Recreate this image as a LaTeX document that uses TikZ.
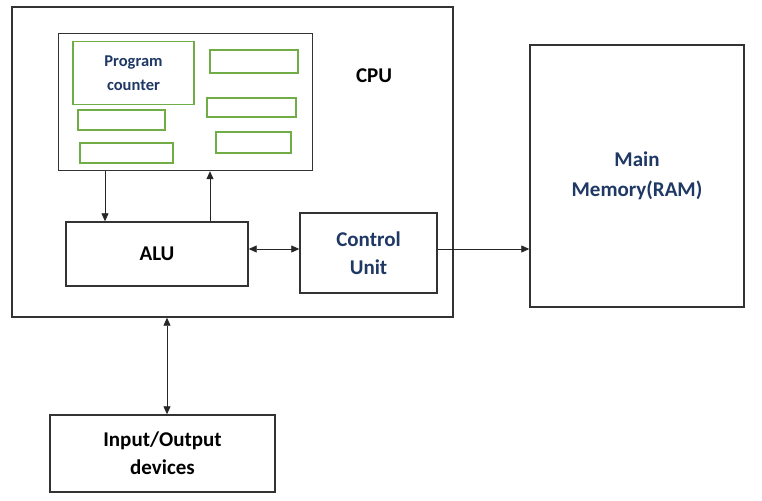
\documentclass[tikz,border=0pt]{standalone}
\usepackage{fontspec}
\setmainfont{Carlito}
\usetikzlibrary{arrows.meta, positioning, calc}
\definecolor{darkblue}{RGB}{31,56,100}
\definecolor{leafgreen}{RGB}{112,173,71}
\tikzset{
    box/.style={
        rectangle,
        draw=black!80,
        line width=1.4pt,
        align=center,
        inner sep=0pt,
        font=\bfseries\fontsize{21}{28}\selectfont
    },
    reg/.style={
        rectangle,
        draw=leafgreen,
        line width=1.3pt,
        inner sep=0pt
    },
    arrow/.style={line width=0.8pt, draw=black!85, -{Triangle[length=8pt,width=7pt]}},
    biarrow/.style={line width=0.8pt, draw=black!85, {Triangle[length=8pt,width=7pt]}-{Triangle[length=8pt,width=7pt]}}
}
\begin{document}
\begin{tikzpicture}[x=1pt, y=-1pt]
    \useasboundingbox (0,0) rectangle (762,500);

    % CPU and its register panel
    \node (cpu) [box, minimum width=441pt, minimum height=310pt] at (232.5,162) {};
    \node (cpulabel) [font=\bfseries\fontsize{21}{24}\selectfont] at (374,76) {CPU};
    \node (panel) [box, minimum width=254pt, minimum height=137pt] at (185.5,102) {};

    \node (pc) [reg, minimum width=121pt, minimum height=63pt, align=center,
        text=darkblue, font=\bfseries\fontsize{16.5}{24}\selectfont] at (133.5,73) {Program\\counter};
    \node (regA) [reg, minimum width=88pt, minimum height=23pt] at (254,61.5) {};
    \node (regB) [reg, minimum width=89pt, minimum height=19pt] at (251.5,107.5) {};
    \node (regC) [reg, minimum width=75pt, minimum height=21pt] at (253.5,142.5) {};
    \node (regD) [reg, minimum width=87pt, minimum height=20pt] at (121.5,120) {};
    \node (regE) [reg, minimum width=93pt, minimum height=20pt] at (126.5,153) {};

    \node (alu) [box, minimum width=182pt, minimum height=64pt] at (157,254) {ALU};
    \node (cu) [box, minimum width=137pt, minimum height=80pt, text=darkblue] at (368.5,253) {Control\\Unit};

    % outside the CPU
    \node (mem) [box, minimum width=214pt, minimum height=262pt, text=darkblue,
        font=\bfseries\fontsize{21}{30}\selectfont] at (637,176) {Main\\Memory(RAM)};
    \node (io) [box, minimum width=225pt, minimum height=77pt] at (162.5,453.5) {Input/Output\\devices};

    \draw [arrow] ([xshift=-80.5pt]panel.south) -- ([xshift=-80.5pt]panel.south |- alu.north);
    \draw [arrow] ([xshift=24.5pt]panel.south |- alu.north) -- ([xshift=24.5pt]panel.south);
    \draw [biarrow] ([yshift=5pt]alu.east) -- ([yshift=5pt]alu.east -| cu.west);
    \draw [arrow] ([yshift=4pt]cu.east) -- ([yshift=4pt]cu.east -| mem.west);
    \draw [biarrow] ([xshift=4.5pt]io.north |- cpu.south) -- ([xshift=4.5pt]io.north);

\end{tikzpicture}
\end{document}
